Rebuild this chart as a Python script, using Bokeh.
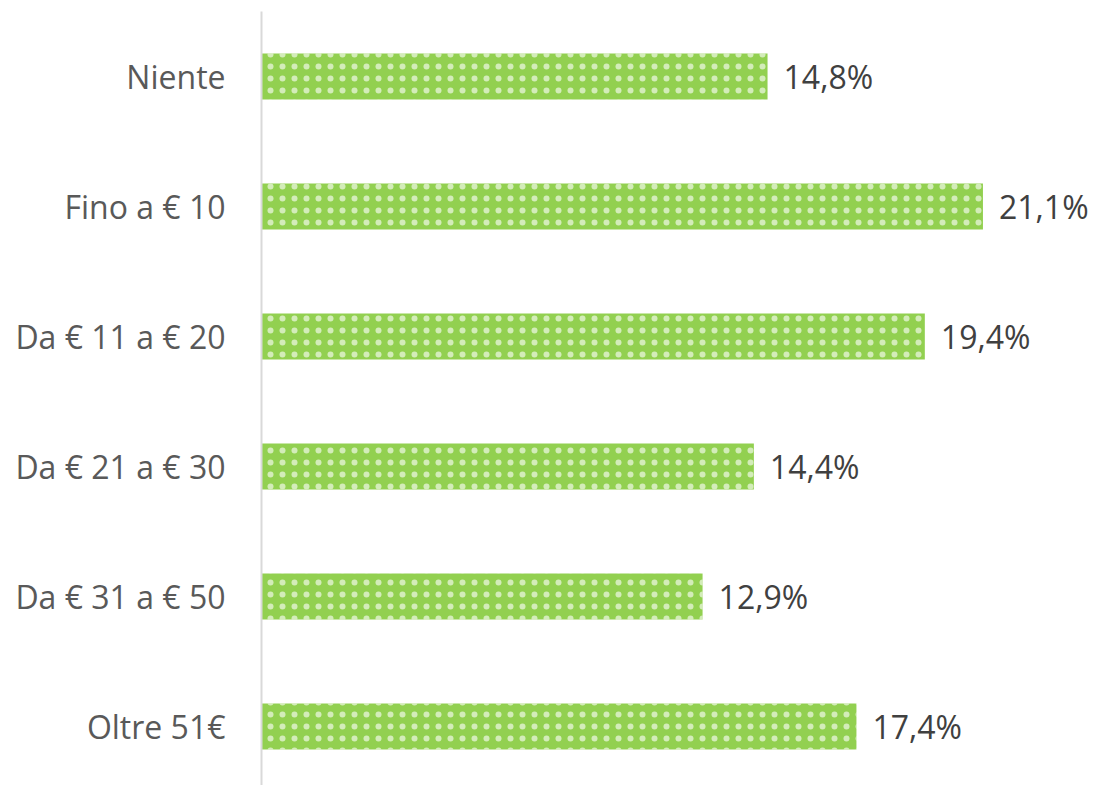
from bokeh.plotting import figure
from bokeh.models import Range1d, FixedTicker, ColumnDataSource
from bokeh.core.properties import value
from bokeh.embed import file_html
from bokeh.resources import INLINE

categories = ["Niente", "Fino a € 10", "Da € 11 a € 20", "Da € 21 a € 30", "Da € 31 a € 50", "Oltre 51€"]
values = [14.8, 21.1, 19.4, 14.4, 12.9, 17.4]
labels = ["14,8%", "21,1%", "19,4%", "14,4%", "12,9%", "17,4%"]

pos = list(range(len(categories)))
src = ColumnDataSource(dict(y=pos, v=values, lab=labels))

p = figure(width=1097, height=785, output_backend="svg", toolbar_location=None,
           x_range=Range1d(0, 24.45), y_range=Range1d(5.454, -0.5),
           min_border_left=261, min_border_top=11, min_border_right=0, min_border_bottom=0)
p.outline_line_color = None
p.xgrid.visible = False
p.ygrid.visible = False
p.xaxis.visible = False

p.hbar(y="y", right="v", left=0, height=0.354, source=src,
       fill_color="#92D050", line_color=None,
       hatch_pattern="dot", hatch_color="white", hatch_alpha=0.6,
       hatch_scale=12, hatch_weight=1)

p.text(x="v", y="y", text="lab", source=src, x_offset=16, text_baseline="middle",
       text_align="left", text_font=value("Open Sans"), text_font_size="32px",
       text_color="#404040")

ya = p.yaxis[0]
ya.ticker = FixedTicker(ticks=pos)
ya.major_label_overrides = {i: c for i, c in enumerate(categories)}
ya.major_tick_line_color = None
ya.minor_tick_line_color = None
ya.axis_line_color = "#D9D9D9"
ya.axis_line_width = 2
ya.major_label_standoff = 30
ya.major_label_text_font = "Open Sans"
ya.major_label_text_font_size = "32px"
ya.major_label_text_color = "#595959"

open("out.html", "w").write(file_html(p, INLINE))
